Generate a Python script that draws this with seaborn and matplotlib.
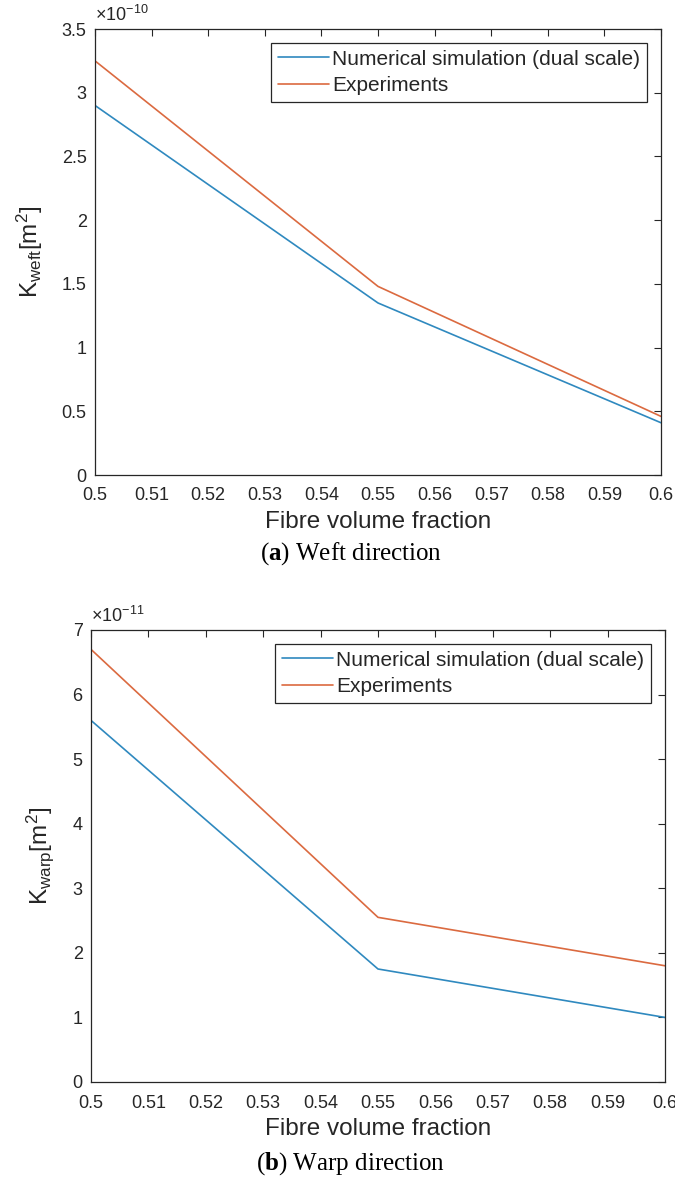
import matplotlib
matplotlib.use("Agg")
import matplotlib.pyplot as plt
import seaborn as sns
import pandas as pd
from matplotlib.ticker import FixedLocator

# ---- data ----
vf = [0.50, 0.55, 0.60]
weft_sim = [2.90, 1.35, 0.41]      # x 1e-10
weft_exp = [3.25, 1.48, 0.46]      # x 1e-10
warp_sim = [5.60, 1.75, 1.00]      # x 1e-11
warp_exp = [6.70, 2.55, 1.80]      # x 1e-11
series_names = ["Numerical simulation (dual scale)", "Experiments"]
xticks = [0.5, 0.51, 0.52, 0.53, 0.54, 0.55, 0.56, 0.57, 0.58, 0.59, 0.6]
xtick_labels = ["0.5", "0.51", "0.52", "0.53", "0.54", "0.55", "0.56", "0.57", "0.58", "0.59", "0.6"]
weft_yticks = ["0", "0.5", "1", "1.5", "2", "2.5", "3", "3.5"]
warp_yticks = ["0", "1", "2", "3", "4", "5", "6", "7"]

sns.set_theme(style="white")
plt.rcParams['font.family'] = ['Liberation Sans', 'DejaVu Sans']
plt.rcParams['mathtext.fontset'] = 'custom'
plt.rcParams['mathtext.rm'] = 'Liberation Sans'
plt.rcParams['mathtext.it'] = 'Liberation Sans'
plt.rcParams['mathtext.bf'] = 'Liberation Serif:bold'

colors = ["#2f89bf", "#db6a40"]
axis_col = "#262626"

fig = plt.figure(figsize=(6.75, 11.86), dpi=100)
W, H = 675.0, 1186.0


def panel(left, right, top, bottom, sim, exp, ymax, ystep, ylabels, exponent, ylabel):
    ax = fig.add_axes([left / W, 1 - bottom / H, (right - left) / W, (bottom - top) / H])
    df = pd.DataFrame({
        "x": vf * 2,
        "y": sim + exp,
        "s": [series_names[0]] * len(vf) + [series_names[1]] * len(vf),
    })
    sns.lineplot(data=df, x="x", y="y", hue="s", palette=colors, ax=ax,
                 linewidth=1.2, legend=True)
    ax.set_xlim(0.5, 0.6)
    ax.set_ylim(0, ymax)
    ax.xaxis.set_major_locator(FixedLocator(xticks))
    ax.set_xticklabels(xtick_labels)
    ax.yaxis.set_major_locator(FixedLocator([i * ystep for i in range(len(ylabels))]))
    ax.set_yticklabels(ylabels)
    ax.tick_params(direction="in", top=True, right=True, length=5, width=0.8,
                   colors=axis_col, labelsize=13)
    ax.tick_params(axis="x", pad=9)
    ax.tick_params(axis="y", pad=6)
    for sp in ax.spines.values():
        sp.set_color(axis_col)
        sp.set_linewidth(0.9)
    ax.set_xlabel("Fibre volume fraction", fontsize=17.5, color=axis_col, labelpad=5)
    ax.set_ylabel(ylabel, fontsize=17.5, color=axis_col, labelpad=12)
    ax.text(0.0, 1.008, r"$\times$10$^{%s}$" % exponent, transform=ax.transAxes,
            fontsize=13, color=axis_col, ha="left", va="bottom")
    ax_w = right - left
    ax_h = bottom - top
    leg = ax.legend(loc="upper right",
                    bbox_to_anchor=(1 - 14 / ax_w, 1 - 14 / ax_h),
                    fontsize=15, frameon=True, fancybox=False, framealpha=1,
                    edgecolor=axis_col, handlelength=2.45, handletextpad=0.15,
                    borderpad=0.32, labelspacing=0.35, borderaxespad=0)
    leg.get_frame().set_linewidth(0.9)
    for t in leg.get_texts():
        t.set_color(axis_col)
    return ax


panel(95, 661, 29, 475, weft_sim, weft_exp, 3.5, 0.5, weft_yticks, "-10",
      r"K$_{\mathrm{weft}}$[m$^2$]")
panel(91, 665, 630, 1082, warp_sim, warp_exp, 7, 1, warp_yticks, "-11",
      r"K$_{\mathrm{warp}}$[m$^2$]")


def caption(y_px, letter, rest):
    fig.text(0.52, 1 - y_px / H, r"($\mathbf{%s}$) %s" % (letter, rest),
             ha="center", va="center", fontsize=18, color="black",
             family=['Liberation Serif', 'DejaVu Serif'])


caption(554, "a", "Weft direction")
caption(1164, "b", "Warp direction")

fig.savefig("out.png", dpi=100, facecolor="white")
